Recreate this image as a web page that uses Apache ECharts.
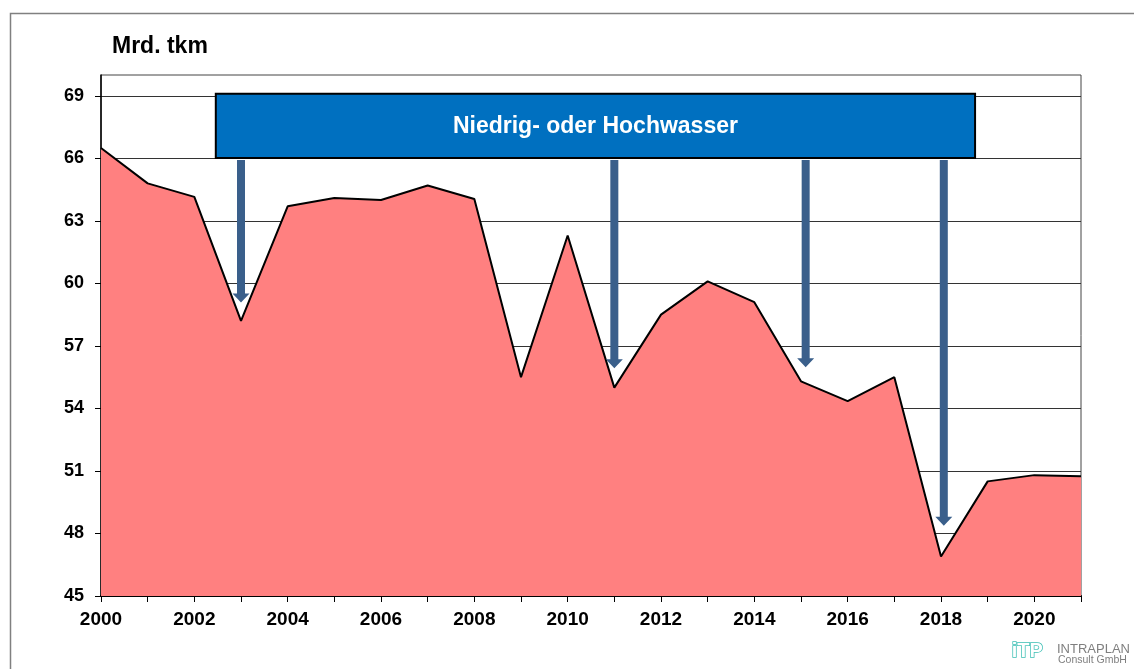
<!DOCTYPE html>
<html>
<head>
<meta charset="utf-8">
<script src="https://cdn.jsdelivr.net/npm/echarts@6/dist/echarts.min.js"></script>
<style>
html,body{margin:0;padding:0;background:#fff;}
#chart{width:1134px;height:669px;}
</style>
</head>
<body>
<div id="chart"></div>
<script>
const years = [2000,2001,2002,2003,2004,2005,2006,2007,2008,2009,2010,2011,2012,2013,2014,2015,2016,2017,2018,2019,2020,2021];
const values = [66.5,64.8,64.15,58.2,63.7,64.1,64.0,64.7,64.05,55.5,62.3,55.0,58.5,60.1,59.1,55.3,54.35,55.5,46.9,50.5,50.8,50.75];
const yTicks = [45,48,51,54,57,60,63,66,69];
const xLabelYears = [2000,2002,2004,2006,2008,2010,2012,2014,2016,2018,2020];
const titleText = 'Mrd. tkm';
const boxLabel = 'Niedrig- oder Hochwasser';
const boxX = [2002.46, 2018.73];
const boxY = [66.02, 69.1];
const arrowX = [2003, 2011, 2015.1, 2018.06];
const arrowTipY = [59.08, 55.93, 55.98, 48.37];

const FONT = '"Liberation Sans", Arial, Helvetica, sans-serif';
const chart = echarts.init(document.getElementById('chart'));

const option = {
  animation: false,
  backgroundColor: '#fff',
  title: {
    text: titleText, left: 112, top: 35, padding: 0,
    textStyle: {fontFamily: FONT, fontSize: 23, fontWeight: 'bold', color: '#000'}
  },
  grid: {left: 101, right: 53, top: 75, bottom: 73, show: true, borderColor: '#444', borderWidth: 1, backgroundColor: 'transparent'},
  xAxis: {
    type: 'value', min: 2000, max: 2021, interval: 1,
    axisLine: {show: true, lineStyle: {color: '#000', width: 2}},
    axisTick: {show: true, length: 6, lineStyle: {color: '#000', width: 1}},
    axisLabel: {
      margin: 14, fontFamily: FONT, fontSize: 19, fontWeight: 'bold', color: '#000',
      customValues: xLabelYears,
      formatter: v => (xLabelYears.indexOf(v) >= 0 ? String(v) : '')
    },
    splitLine: {show: false}
  },
  yAxis: {
    type: 'value', min: 45, max: 70, interval: 3,
    axisLine: {show: true, lineStyle: {color: '#000', width: 1.5}},
    axisTick: {show: true, length: 6, customValues: yTicks, lineStyle: {color: '#000', width: 1}},
    axisLabel: {
      margin: 17, fontFamily: FONT, fontSize: 18, fontWeight: 'bold', color: '#000',
      customValues: yTicks,
      formatter: v => (yTicks.indexOf(v) >= 0 ? String(v) : '')
    },
    splitLine: {show: true, lineStyle: {color: '#333', width: 1}}
  },
  series: [
    {
      type: 'line', z: 2,
      data: years.map((y, i) => [y, values[i]]),
      symbol: 'none',
      lineStyle: {color: '#000', width: 2},
      areaStyle: {color: '#FF8080', opacity: 1},
      silent: true
    },
    {
      type: 'custom', z: 10, clip: false, silent: true,
      data: [[boxX[0], boxY[0], boxX[1], boxY[1]]],
      encode: {x: [0, 2], y: [1, 3]},
      renderItem: (params, api) => {
        const p0 = api.coord([api.value(0), api.value(3)]);
        const p1 = api.coord([api.value(2), api.value(1)]);
        return {type: 'group', children: [
          {type: 'rect', shape: {x: p0[0], y: p0[1], width: p1[0] - p0[0], height: p1[1] - p0[1]},
           style: {fill: '#0070C0', stroke: '#000', lineWidth: 2}},
          {type: 'text', style: {text: boxLabel, x: (p0[0] + p1[0]) / 2, y: (p0[1] + p1[1]) / 2 + 1,
           align: 'center', verticalAlign: 'middle', fill: '#fff', font: 'bold 23px ' + FONT}}
        ]};
      }
    },
    {
      type: 'custom', z: 9, clip: false, silent: true,
      data: arrowX.map((x, i) => [x, arrowTipY[i]]),
      renderItem: (params, api) => {
        const x = api.value(0);
        const top = api.coord([x, boxY[0]]);
        const tip = api.coord([x, api.value(1)]);
        const cx = top[0], t = top[1] + 2, b = tip[1];
        const sw = 4, hw = 8.5, hl = 9;
        return {type: 'polygon', shape: {points: [
          [cx - sw, t], [cx + sw, t], [cx + sw, b - hl], [cx + hw, b - hl], [cx, b], [cx - hw, b - hl], [cx - sw, b - hl]
        ]}, style: {fill: '#3A5F8B'}};
      }
    }
  ],
  graphic: [
    {type: 'rect', left: 8, top: 11, shape: {x: 0, y: 0, width: 1140, height: 670}, style: {fill: 'none', stroke: '#808080', lineWidth: 1.5}, silent: true},
    {type: 'text', left: 1011, top: 641, style: {text: 'iTP', font: 'bold 20px ' + FONT, fill: '#fff', stroke: '#3CBFB4', lineWidth: 1.5}},
    {type: 'text', left: 1057, top: 643, style: {text: 'INTRAPLAN', font: '13px ' + FONT, fill: '#7f7f7f'}},
    {type: 'text', left: 1058, top: 655, style: {text: 'Consult GmbH', font: '10.5px ' + FONT, fill: '#7f7f7f'}}
  ]
};
chart.setOption(option);
</script>
</body>
</html>
